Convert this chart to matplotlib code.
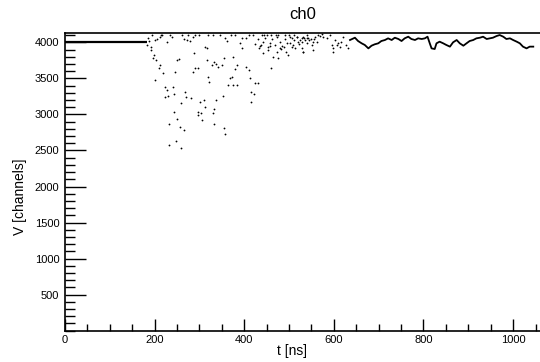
"""Waveform of channel ch0 (ROOT-style scatter of samples)"""

import matplotlib

matplotlib.use("Agg")
import matplotlib.pyplot as plt
from matplotlib.ticker import MultipleLocator

plt.rcParams["font.family"] = ["Liberation Sans", "DejaVu Sans"]

# flat pedestal before the pulse
baseline_t = [0, 182]
baseline_v = [4003, 4003]

# scattered samples during the ringing part
scatter_t = [
    186, 188, 201, 205, 212, 216, 184, 191, 193, 199, 196, 202, 212, 210, 219, 201,
    228, 238, 245, 249, 254, 224, 228, 224, 229, 240, 244, 258, 268, 271, 281, 273,
    279, 266, 286, 288, 291, 290, 285, 296, 312, 316, 316, 320, 322, 329, 332, 338,
    342, 352, 338, 310, 312, 301, 297, 296, 303, 331, 333, 351, 355, 357, 361, 368,
    372, 364, 374, 383, 379, 383, 375, 390, 394, 396, 403, 405, 411, 413, 414, 416,
    422, 424, 430, 433, 437, 442, 453, 459, 457, 465, 472, 476, 480, 483, 488, 494,
    498, 502, 506, 509, 513, 517, 520, 524, 532, 539,
    232, 249, 257, 266, 244, 306, 332, 355, 358, 233, 248, 259,
    528, 532, 535, 539, 543, 550, 554, 558, 565, 569, 573, 576, 584, 591, 595, 599,
    602, 606, 610, 613, 617, 621, 628, 632, 528, 532, 554, 599,
    195, 215, 235, 260, 275, 300, 320, 330, 345, 370, 380, 410, 420, 440, 445, 450,
    460, 470, 475, 490, 500, 510,
    425, 430, 436, 441, 447, 452, 458, 463, 468, 474, 479, 485, 490, 496, 501, 507,
    512, 518, 523, 529, 534, 540, 545, 551, 556, 562,
]
scatter_v = [
    4055, 4018, 4032, 4046, 4078, 4101, 3963, 3940, 3893, 3824, 3778, 3755, 3685, 3639, 3579, 3477,
    4009, 4078, 3593, 3755, 3764, 3385, 3339, 3246, 3260, 3385, 3278, 3154, 3315, 3237, 3223, 4032,
    4018, 4041, 4078, 3856, 4101, 3639, 3593, 3639, 3940, 3916, 3755, 3523, 3454, 3685, 3731, 3694,
    3662, 3255, 3200, 3200, 3107, 3177, 3038, 2992, 3024, 3015, 3070, 3685, 3778, 4055, 4018, 3500,
    3523, 3408, 3408, 3408, 3625, 3685, 3792, 3986, 3916, 4055, 4055, 3662, 3616, 3500, 3167, 3315,
    3283, 3431, 3440, 3916, 3963, 3847, 3893, 3639, 3953, 3801, 3870, 3778, 3926, 3907, 3940, 3870,
    3824, 3986, 4055, 3963, 3916, 4078, 4009, 4032, 3870, 4055,
    2867, 2932, 2830, 2784, 3038, 2922, 2867, 2807, 2728, 2576, 2631, 2539,
    4055, 4078, 4032, 4101, 4064, 4046, 4009, 4078, 4101, 4092, 4110, 4078, 4064, 4101, 3963, 3916,
    4032, 3963, 3986, 3940, 4009, 4078, 3963, 3916, 3916, 3870, 3893, 3870,
    4100, 4098, 4102, 4100, 4099, 4101, 4100, 4098, 4102, 4100, 4099, 4101, 4100, 4098, 4102, 4100,
    4099, 4101, 4100, 4098, 4102, 4100,
    3980, 4040, 3950, 4010, 4060, 3930, 3990, 4040, 3960, 4080, 4000, 3950, 4050, 3990, 4070, 3940,
    4030, 4080, 3970, 4000, 4060, 3990, 4030, 3960, 4050, 4000,
]

# settled tail, dense enough to read as a wiggly line
tail_t = [
    636, 647, 654, 662, 669, 677, 684, 691, 699, 706, 714, 721, 729, 736, 744, 751,
    758, 766, 773, 781, 788, 796, 803, 809, 814, 818, 825, 829, 836, 844, 851, 859,
    866, 874, 881, 889, 896, 903, 911, 918, 926, 933, 941, 948, 955, 963, 970, 978,
    985, 993, 1000, 1008, 1015, 1022, 1030, 1037, 1045,
]
tail_v = [
    4032, 4064, 4018, 3986, 3963, 3916, 3953, 3972, 3986, 4018, 4032, 4055, 4032, 4064, 4046, 4018,
    4055, 4078, 4046, 4032, 4055, 4046, 4055, 4078, 3986, 3916, 3907, 3986, 4009, 3986, 3963, 3940,
    4000, 4032, 3986, 3953, 3986, 4018, 4032, 4055, 4064, 4078, 4046, 4055, 4064, 4087, 4101, 4078,
    4046, 4055, 4032, 4009, 3986, 3940, 3916, 3940, 3940,
]

fig = plt.figure(figsize=(5.4, 3.62), dpi=100)
ax = fig.add_axes([0.1204, 0.0865, 0.8796, 0.8215])

ax.plot(baseline_t, baseline_v, color="black", lw=1.6, solid_capstyle="butt")
ax.plot(scatter_t, scatter_v, "o", color="black", ms=1.3, mew=0)
ax.plot(tail_t, tail_v, color="black", lw=1.3)

ax.set_xlim(0, 1060)
ax.set_ylim(0, 4125)

ax.xaxis.set_major_locator(MultipleLocator(200))
ax.xaxis.set_minor_locator(MultipleLocator(50))
ax.yaxis.set_major_locator(MultipleLocator(500))
ax.yaxis.set_minor_locator(MultipleLocator(100))
ax.set_yticks([500, 1000, 1500, 2000, 2500, 3000, 3500, 4000])

ax.tick_params(axis="x", which="major", direction="in", length=9, width=1, labelsize=8, pad=3)
ax.tick_params(axis="x", which="minor", direction="in", length=5, width=1)
ax.tick_params(axis="y", which="major", direction="in", length=15, width=1, labelsize=8, pad=4)
ax.tick_params(axis="y", which="minor", direction="in", length=7, width=1)

for side in ["left", "bottom", "top"]:
    ax.spines[side].set_linewidth(1.2)
ax.spines["right"].set_visible(False)

ax.set_title("ch0", fontsize=12, pad=10)
ax.set_xlabel("t [ns]", fontsize=10, labelpad=0)
ax.set_ylabel("V [channels]", fontsize=10, labelpad=4)
ax.xaxis.set_label_coords(0.478, -0.045, transform=ax.transAxes)
ax.xaxis.label.set_verticalalignment("top")
ax.yaxis.set_label_coords(-0.08, 0.45, transform=ax.transAxes)

fig.savefig("out.png", dpi=100)
